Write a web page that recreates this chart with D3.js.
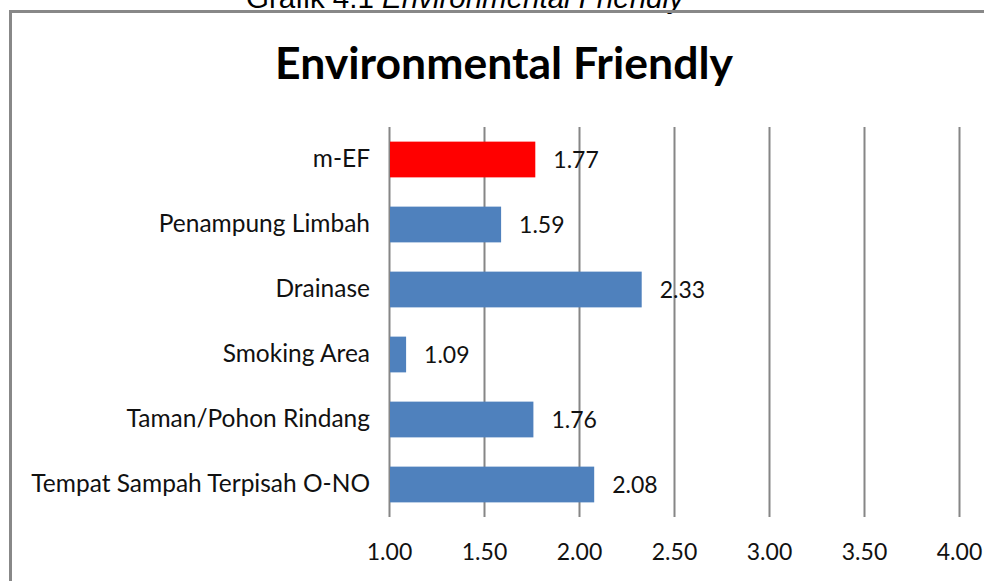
<!DOCTYPE html>
<html>
<head>
<meta charset="utf-8">
<script src="https://cdn.jsdelivr.net/npm/d3@7"></script>
<style>
  html, body { margin: 0; padding: 0; background: #fff; }
  svg { display: block; }
</style>
</head>
<body>
<script>
const categories = ["m-EF", "Penampung Limbah", "Drainase", "Smoking Area", "Taman/Pohon Rindang", "Tempat Sampah Terpisah O-NO"];
const values     = [1.77, 1.59, 2.33, 1.09, 1.76, 2.08];
const highlight  = ["m-EF"];
const tickValues = [1.0, 1.5, 2.0, 2.5, 3.0, 3.5, 4.0];

const width  = 984;
const height = 581;
const plot   = {left: 389, right: 959, top: 127, bottom: 517};
const font   = "Lato, 'Open Sans', sans-serif";

const svg = d3.select("body").append("svg")
  .attr("width", width)
  .attr("height", height);

// caption above the chart box, mostly cut off by the page edge
svg.append("text")
  .attr("x", 246).attr("y", 8)
  .style("font-family", "'Liberation Sans', Arial, sans-serif")
  .style("font-size", "29.5px")
  .attr("fill", "#000")
  .call(t => {
    t.append("tspan").text("Grafik 4.1 ");
    t.append("tspan").style("font-style", "italic").text("Environmental Friendly");
  });

// chart frame
svg.append("rect")
  .attr("x", 10.5).attr("y", 11.5)
  .attr("width", width + 20).attr("height", height + 20)
  .attr("fill", "none")
  .attr("stroke", "#888")
  .attr("stroke-width", 3);

svg.append("text")
  .attr("x", 504).attr("y", 79)
  .attr("text-anchor", "middle")
  .style("font-family", font)
  .style("font-weight", "bold")
  .style("font-size", "44.5px")
  .attr("fill", "#000")
  .text("Environmental Friendly");

const x = d3.scaleLinear().domain([1, 4]).range([plot.left, plot.right]);
const y = d3.scaleBand().domain(categories).range([plot.top, plot.bottom]).paddingInner(0.45).paddingOuter(0.225);

// vertical gridlines
svg.append("g")
  .selectAll("line")
  .data(tickValues)
  .join("line")
  .attr("x1", d => Math.round(x(d)) + 0.5).attr("x2", d => Math.round(x(d)) + 0.5)
  .attr("y1", plot.top).attr("y2", plot.bottom)
  .attr("stroke", "#868686")
  .attr("stroke-width", 2);

// value axis labels
const xAxis = svg.append("g")
  .attr("transform", `translate(0,${plot.bottom})`)
  .call(d3.axisBottom(x).tickValues(tickValues).tickFormat(d3.format(".2f")).tickSize(0).tickPadding(27));
xAxis.select(".domain").remove();
xAxis.selectAll("text")
  .style("font-family", font)
  .style("font-size", "23px")
  .attr("fill", "#111");

// category labels
const yAxis = svg.append("g")
  .attr("transform", `translate(${plot.left - 19},0)`)
  .call(d3.axisLeft(y).tickSize(0).tickPadding(0));
yAxis.select(".domain").remove();
yAxis.selectAll("text")
  .style("font-family", font)
  .style("font-size", "24.5px")
  .attr("fill", "#111");

// bars
svg.append("g")
  .selectAll("rect")
  .data(categories)
  .join("rect")
  .attr("x", x(1) + 1)
  .attr("y", d => y(d))
  .attr("width", (d, i) => x(values[i]) - x(1) - 1)
  .attr("height", y.bandwidth())
  .attr("fill", d => highlight.includes(d) ? "#FF0000" : "#4F81BD");

// value labels
svg.append("g")
  .selectAll("text")
  .data(categories)
  .join("text")
  .attr("x", (d, i) => x(values[i]) + 18)
  .attr("y", d => y(d) + y.bandwidth() / 2)
  .attr("dy", "0.35em")
  .style("font-family", font)
  .style("font-size", "23px")
  .attr("fill", "#111")
  .text((d, i) => d3.format(".2f")(values[i]));
</script>
</body>
</html>
